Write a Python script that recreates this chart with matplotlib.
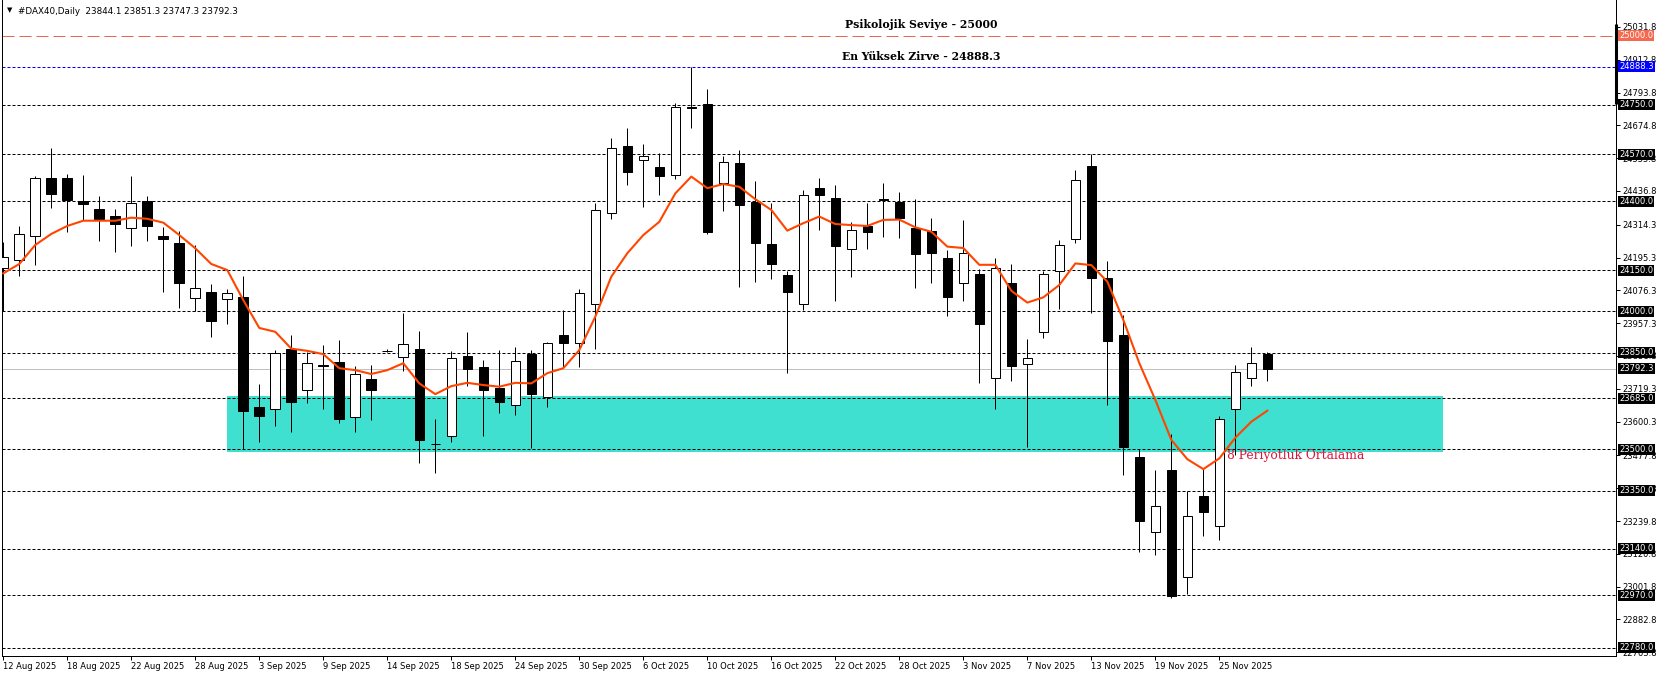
import matplotlib
matplotlib.use("Agg")
import matplotlib.pyplot as plt
from matplotlib.patches import Rectangle
import numpy as np

# ---------------- data ----------------
date_labels = ["12 Aug 2025", "18 Aug 2025", "22 Aug 2025", "28 Aug 2025", "3 Sep 2025",
               "9 Sep 2025", "14 Sep 2025", "18 Sep 2025", "24 Sep 2025", "30 Sep 2025",
               "6 Oct 2025", "10 Oct 2025", "16 Oct 2025", "22 Oct 2025", "28 Oct 2025",
               "3 Nov 2025", "7 Nov 2025", "13 Nov 2025", "19 Nov 2025", "25 Nov 2025"]
date_label_bars = [0, 4, 8, 12, 16, 20, 24, 28, 32, 36, 40, 44, 48, 52, 56, 60, 64, 68, 72, 76]

opens = [24156, 24185, 24275, 24483, 24483, 24400, 24370, 24345, 24301, 24400,
         24274, 24247, 24048, 24069, 24044, 24051, 23653, 23645, 23864, 23714,
         23805, 23815, 23616, 23754, 23857, 23834, 23864, 23520, 23547, 23837,
         23797, 23722, 23659, 23845, 23689, 23913, 23887, 24026, 24356, 24599,
         24548, 24523, 24494, 24740, 24752, 24465, 24537, 24397, 24243, 24132,
         24026, 24447, 24410, 24225, 24310, 24407, 24398, 24304, 24292, 24194,
         24102, 24136, 23760, 24102, 23808, 23924, 24145, 24262, 24527, 24121,
         23914, 23472, 23201, 23425, 23036, 23330, 23223, 23645, 23757, 23844.1]
highs = [24251, 24310, 24491, 24593, 24498, 24495, 24417, 24371, 24491, 24417,
         24306, 24291, 24240, 24099, 24081, 24130, 23737, 23860, 23914, 23854,
         23877, 23896, 23801, 23806, 23863, 23994, 23929, 23610, 23856, 23925,
         23824, 23860, 23872, 23860, 23889, 24004, 24081, 24392, 24628, 24664,
         24606, 24573, 24755, 24888.3, 24806, 24564, 24585, 24473, 24394, 24148,
         24440, 24484, 24458, 24323, 24394, 24466, 24433, 24407, 24339, 24223,
         24332, 24153, 24194, 24172, 23899, 24148, 24259, 24513, 24570, 24183,
         23987, 23500, 23425, 23554, 23350, 23431, 23621, 23806, 23871, 23851.3]
lows = [24000, 24130, 24169, 24376, 24289, 24332, 24256, 24217, 24238, 24256,
        24072, 24013, 24000, 23908, 23953, 23500, 23527, 23585, 23564, 23669,
        23647, 23596, 23564, 23607, 23853, 23785, 23451, 23415, 23527, 23731,
        23549, 23633, 23625, 23505, 23654, 23797, 23797, 23865, 24334, 24460,
        24380, 24423, 24479, 24666, 24280, 24365, 24087, 24108, 24119, 23778,
        24005, 24296, 24039, 24126, 24227, 24271, 24267, 24086, 24104, 23984,
        24039, 23741, 23647, 23749, 23509, 23905, 24009, 24249, 23995, 23660,
        23407, 23128, 23116, 22962, 22975, 23187, 23171, 23479, 23731, 23747.3]
closes = [24197, 24280, 24483, 24427, 24405, 24388, 24336, 24316, 24392, 24311,
          24262, 24104, 24084, 23966, 24066, 23640, 23622, 23848, 23672, 23812,
          23803, 23611, 23772, 23716, 23858, 23881, 23535, 23519, 23830, 23792,
          23716, 23672, 23819, 23702, 23884, 23887, 24066, 24367, 24592, 24507,
          24563, 24492, 24740, 24738, 24289, 24541, 24387, 24249, 24173, 24071,
          24421, 24423, 24238, 24294, 24289, 24405, 24340, 24209, 24213, 24053,
          24211, 23955, 24156, 23803, 23830, 24135, 24240, 24476, 24122, 23894,
          23509, 23241, 23293, 22968, 23257, 23274, 23609, 23779, 23812, 23792.3]
ma8 = [24138, 24172, 24241, 24281, 24310, 24329, 24329, 24329, 24340, 24336,
       24322, 24277, 24229, 24172, 24150, 24041, 23940, 23926, 23865, 23857,
       23845, 23794, 23787, 23773, 23787, 23812, 23739, 23700, 23729, 23741,
       23733, 23727, 23741, 23739, 23776, 23794, 23860, 23981, 24126, 24211,
       24277, 24325, 24428, 24489, 24447, 24462, 24452, 24407, 24368, 24293,
       24320, 24344, 24317, 24313, 24310, 24332, 24333, 24305, 24289, 24235,
       24230, 24169, 24169, 24075, 24032, 24051, 24096, 24174, 24168, 24108,
       23969, 23812, 23679, 23534, 23464, 23428, 23467, 23542, 23600, 23640]

levels = [24750.0, 24570.0, 24400.0, 24150.0, 24000.0, 23850.0, 23685.0, 23500.0,
          23350.0, 23140.0, 22970.0, 22780.0]
psych_level = 25000.0
ath_level = 24888.3
bid_level = 23792.3
zone_low, zone_high = 23491, 23693
zone_start_bar, zone_end_bar = 14, 90
ytick_values = [25031.8, 24912.8, 24793.8, 24674.8, 24555.8, 24436.8, 24314.3, 24195.3,
                24076.3, 23957.3, 23838.3, 23719.3, 23600.3, 23477.8, 23358.8, 23239.8,
                23120.8, 23001.8, 22882.8, 22763.8]
header = "#DAX40,Daily  23844.1 23851.3 23747.3 23792.3"
title1 = "Psikolojik Seviye - 25000"
title2 = "En Yüksek Zirve - 24888.3"
ma_label = "8 Periyotluk Ortalama"

# ---------------- figure ----------------
W, H = 1662, 677
fig = plt.figure(figsize=(W / 100, H / 100), dpi=100)
fig.patch.set_facecolor("white")
ax = fig.add_axes([2 / W, (H - 656) / H, (1616 - 2) / W, 656 / H])
ax.set_facecolor("white")
ax.set_xlim(-0.08, 100.79)
ax.set_ylim(22750.2, 25129.5)

PX = 0.72  # one pixel in points

# zone
ax.add_patch(Rectangle((zone_start_bar, zone_low), zone_end_bar - zone_start_bar,
                       zone_high - zone_low, facecolor="#40E0D0", edgecolor="none", zorder=1))

# horizontal lines
for lv in levels:
    ax.axhline(lv, color="black", lw=PX, linestyle=(0, (3.0, 2.0)), zorder=2)
ax.axhline(psych_level, color="#EE6450", lw=PX, linestyle=(0, (12, 5)), zorder=2)
ax.axhline(ath_level, color="#0000FF", lw=PX, linestyle=(0, (3.0, 2.0)), zorder=2)
ax.axhline(bid_level, color="#C0C0C0", lw=PX, zorder=2)

# candles
x = np.arange(len(opens))
o = np.array(opens, float)
c = np.array(closes, float)
hi = np.array(highs, float)
lo = np.array(lows, float)
ax.vlines(x, lo, hi, color="black", lw=PX, zorder=3)
bottoms = np.minimum(o, c)
heights = np.maximum(np.abs(c - o), 0.5)
fcols = ["white" if cc >= oo else "black" for oo, cc in zip(o, c)]
ax.bar(x, heights, bottom=bottoms, width=0.6, color=fcols, edgecolor="black",
       linewidth=PX, zorder=4)

# moving average
ax.plot(x, ma8, color="#FF4500", lw=1.5, zorder=5, solid_joinstyle="round")

# texts
ax.text(57.4, 25041, title1, ha="center", va="center", fontsize=7.8,
        family="DejaVu Serif", fontweight="bold", color="black", zorder=6)
ax.text(57.4, 24926, title2, ha="center", va="center", fontsize=7.8,
        family="DejaVu Serif", fontweight="bold", color="black", zorder=6)
ax.text(76.5, 23479, ma_label, ha="left", va="center", fontsize=8.8,
        family="DejaVu Serif", color="#DC143C", zorder=6)

# spines
ax.spines["top"].set_visible(False)
for s in ["left", "right", "bottom"]:
    ax.spines[s].set_linewidth(PX)

# axes ticks
ax.yaxis.tick_right()
ax.set_yticks(ytick_values)
ax.set_yticklabels([f"{v:.1f}" for v in ytick_values])
ax.tick_params(axis="y", direction="out", length=3, width=PX, labelsize=6, pad=1.5,
               colors="black")
ax.set_xticks(date_label_bars)
ax.set_xticklabels(date_labels)
for lab in ax.get_xticklabels():
    lab.set_horizontalalignment("left")
ax.tick_params(axis="x", direction="out", length=3, width=PX, labelsize=6, pad=1.5)

# right-side price boxes
trans = ax.get_yaxis_transform()
box_items = [(lv, "black") for lv in levels] + [(psych_level, "#F4694F"),
                                               (ath_level, "#0000FF"),
                                               (bid_level, "black")]
for lv, bg in box_items:
    ax.annotate(f"{lv:.1f}", xy=(1.0, lv), xycoords=trans, xytext=(2.4, 0),
                textcoords="offset points", ha="left", va="center", fontsize=6,
                color="white", annotation_clip=False, zorder=10,
                bbox=dict(boxstyle="square,pad=0.12", fc=bg, ec="none"))

# thick bar on the price scale
ax.plot([1.0, 1.0], [25042, 24754], transform=trans, color="black", lw=2.2,
        clip_on=False, zorder=9, solid_capstyle="butt")

# header
fig.text(9.5 / W, 1 - 10.5 / H, "▼", fontsize=5, ha="center", va="center")
fig.text(18 / W, 1 - 11 / H, header, fontsize=6.3, ha="left", va="center")

fig.savefig("out.png", dpi=100)
